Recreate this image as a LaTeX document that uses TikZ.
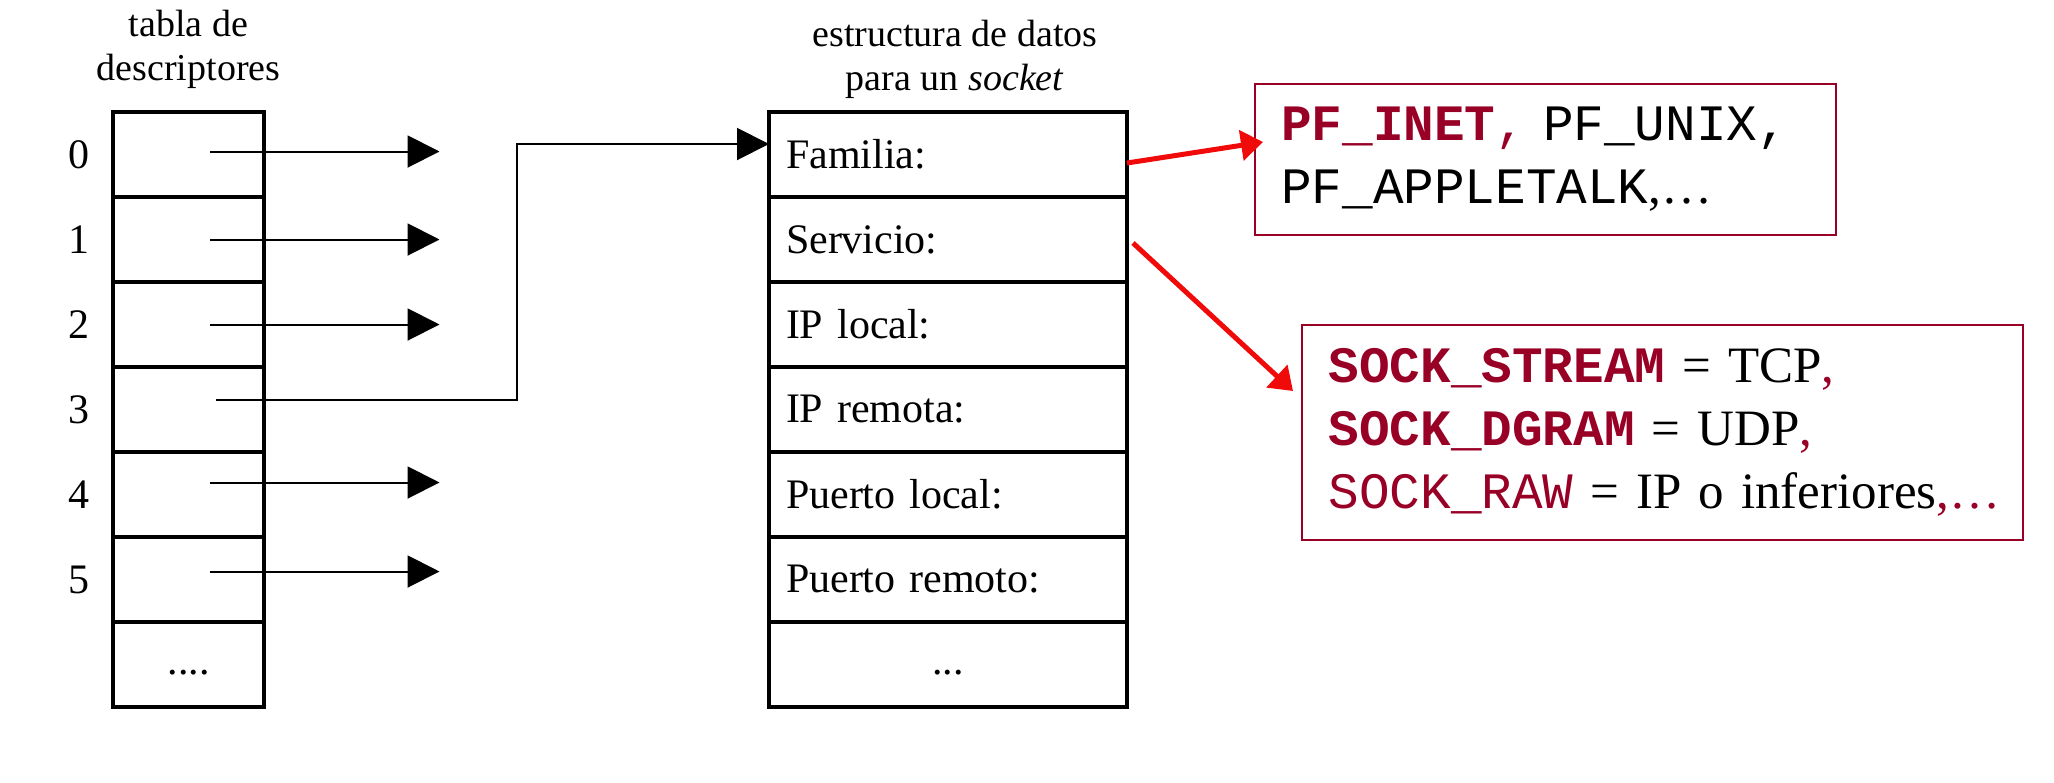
\documentclass[tikz,border=0pt]{standalone}
\usepackage{fontspec}
\setmainfont{Liberation Serif}
\setmonofont{Liberation Mono}
\usepackage{tikz}
\usetikzlibrary{positioning,arrows.meta}
\definecolor{sockred}{RGB}{153,0,38}
\definecolor{arrowred}{RGB}{240,10,10}
\newcommand{\bkw}[1]{\textcolor{sockred}{\texttt{\textbf{#1}}}}

\begin{document}
\begin{tikzpicture}[
      x=0.5pt, y=-0.5pt,
      >={Triangle[length=16pt,width=16pt]}
    ]

    \tikzstyle{dcell} = [rectangle, draw=black, line width=1.6pt, minimum width=75.5pt, minimum height=42.5pt, inner sep=0pt, outer sep=0pt, font=\fontsize{21}{24}\selectfont]
    \tikzstyle{scell} = [dcell, minimum width=179pt, text width=162pt, inner xsep=8.5pt, align=left]
    \tikzstyle{num} = [inner sep=0pt, font=\fontsize{21}{24}\selectfont]
    \tikzstyle{title} = [inner sep=0pt, align=center, font=\fontsize{19}{22}\selectfont]
    \tikzstyle{ptr} = [line width=1pt, ->]
    \tikzstyle{valbox} = [rectangle, draw=sockred, line width=1.2pt, align=left, inner ysep=0pt, font=\fontsize{25.5}{31.5}\selectfont]
    \tikzstyle{redarrow} = [draw=arrowred, line width=2.5pt, -{Triangle[length=11pt,width=15pt]}]

    \useasboundingbox (0,0) rectangle (2054,782);

    % tabla de descriptores
    \node [dcell] (d0) at (188.5,154.5) {};
    \foreach \i [remember=\i as \j (initially 0)] in {1,...,5}
      \node [dcell, below=0pt of d\j] (d\i) {};
    \node [dcell, below=0pt of d5] (d6) {\strut....};
    \foreach \i in {0,...,5}
      \node [num, left=11.75pt of d\i] (n\i) {\i};
    \node [title, above=11.5pt of d0] (tabla) {tabla de\\descriptores};

    % estructura del socket
    \node [scell, right=252.5pt of d0] (s0) {Familia:};
    \node [scell, below=0pt of s0] (s1) {Servicio:};
    \node [scell, below=0pt of s1] (s2) {IP local:};
    \node [scell, below=0pt of s2] (s3) {IP remota:};
    \node [scell, below=0pt of s3] (s4) {Puerto local:};
    \node [scell, below=0pt of s4] (s5) {Puerto remoto:};
    \node [scell, align=center, below=0pt of s5] (s6) {\strut...};
    \node [title, above=6.5pt of s0, xshift=3.5pt] (estr) {estructura de datos\\para un \textit{socket}};

    % punteros
    \foreach \i/\dy in {0/1.5,1/0,2/0,4/6,5/4}
      {
        \coordinate (e\i) at ([xshift=125.5pt,yshift=\dy pt]d\i.center);
        \draw [ptr] ([xshift=10.75pt,yshift=\dy pt]d\i.center) -- (e\i);
      }
    \draw [ptr] ([xshift=13.75pt,yshift=4.75pt]d3.center) -- ++(150.5pt,0) |- ([yshift=5.25pt]s0.west);

    % valores posibles
    \node [valbox, minimum width=290.5pt, minimum height=75.5pt, text width=264.5pt, inner xsep=13pt, right=63.5pt of s0, yshift=-2.5pt] (pf) {
      \bkw{PF\_INET}\textcolor{sockred}{\texttt{,}}\texttt{\ PF\_UNIX,}\\
      \texttt{PF\_APPLETALK},\ldots
      };
    \node [valbox, minimum width=360.5pt, minimum height=107.5pt, text width=344pt, inner xsep=8.25pt, right=87pt of s3, yshift=-11.5pt] (sock) {
      \hspace*{5pt}\bkw{SOCK\_STREAM} = TCP\textcolor{sockred}{,}\\
      \hspace*{5pt}\bkw{SOCK\_DGRAM} = UDP\textcolor{sockred}{,}\\
      \hspace*{5pt}\textcolor{sockred}{\texttt{SOCK\_RAW}} = IP o inferiores\textcolor{sockred}{,\ldots}
      };

    \draw [redarrow] ([yshift=-4.25pt]s0.east) -- ([xshift=4.5pt,yshift=8.75pt]pf.west);
    \draw [redarrow] ([xshift=3pt,yshift=-1.75pt]s1.east) -- ([xshift=-4pt,yshift=20.75pt]sock.west);

\end{tikzpicture}
\end{document}
